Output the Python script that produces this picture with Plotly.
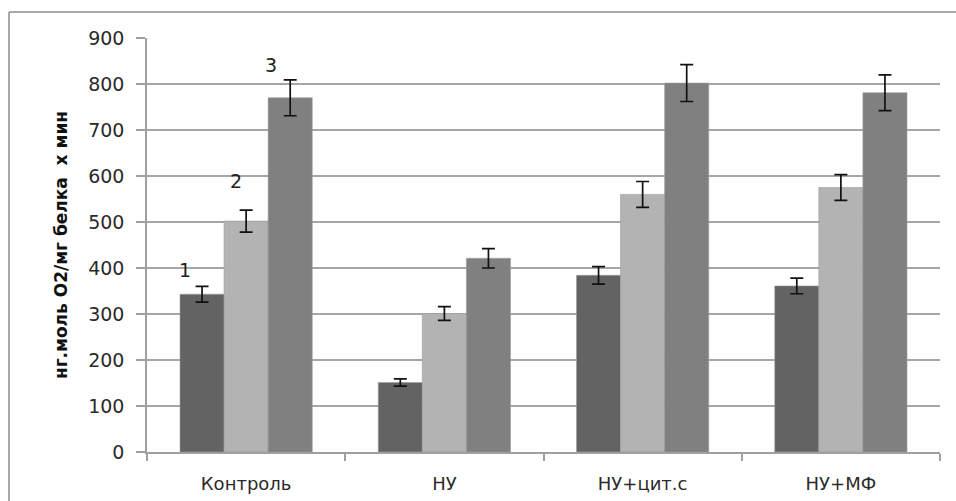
import plotly.graph_objects as go

categories = ["Контроль", "НУ", "НУ+цит.с", "НУ+МФ"]
series1 = [343, 151, 384, 361]
series2 = [502, 301, 560, 575]
series3 = [770, 421, 802, 781]
err1 = [17, 8, 19, 17]
err2 = [24, 15, 28, 28]
err3 = [39, 21, 40, 39]
y_ticks = [0, 100, 200, 300, 400, 500, 600, 700, 800, 900]
series_labels = ["1", "2", "3"]

colors = ["#636363", "#b3b3b3", "#808080"]
font_main = "DejaVu Sans"

fig = go.Figure()
for vals, errs, col, name in zip([series1, series2, series3], [err1, err2, err3], colors, series_labels):
    fig.add_trace(go.Bar(
        x=categories, y=vals, name=name,
        marker=dict(color=col, line=dict(color="#9a9a9a", width=0.6)),
        error_y=dict(type="data", array=errs, visible=True, color="#111111", thickness=1.7, width=6.5),
    ))

# numeric labels over control group bars
label_pos = [(-61, 395), (-10, 589), (25, 841)]
for lab, (dx, yv) in zip(series_labels, label_pos):
    fig.add_annotation(x=categories[0], y=yv, xref="x", yref="y", text=lab, showarrow=False,
                       xshift=dx, font=dict(family=font_main, size=19, color="#222222"))

# outer chart border (top and left edges visible in the frame)
border = dict(color="#8c8c8c", width=1.5)
fig.add_shape(type="line", xref="paper", yref="paper", x0=-0.174, x1=1.03, y0=1.0628, y1=1.0628,
              line=border, layer="below")
fig.add_shape(type="line", xref="paper", yref="paper", x0=-0.174, x1=-0.174, y0=-0.13, y1=1.0628,
              line=border, layer="below")

fig.update_layout(
    width=956, height=501,
    margin=dict(l=147, r=16, t=38, b=49, autoexpand=False),
    paper_bgcolor="white", plot_bgcolor="white",
    barmode="group", bargap=0.333, bargroupgap=0,
    showlegend=False,
    font=dict(family=font_main, size=19, color="#2a2a2a"),
)
fig.update_yaxes(
    range=[0, 900], tickvals=y_ticks, ticktext=[str(v) for v in y_ticks],
    showgrid=True, gridcolor="#a6a6a6", gridwidth=1.5,
    showline=True, linecolor="#a0a0a0", linewidth=1.5,
    ticks="outside", ticklen=9, tickcolor="#a0a0a0", tickwidth=1.5,
    ticklabelstandoff=8, automargin=False,
    tickfont=dict(family=font_main, size=19, color="#2a2a2a"),
    zeroline=False,
    title=dict(text="<b>нг.моль O2/мг белка  х мин</b>", font=dict(family=font_main, size=17, color="#111111"), standoff=16),
)
fig.update_xaxes(
    showline=True, linecolor="#a0a0a0", linewidth=1.5,
    ticks="outside", tickson="boundaries", ticklen=7, tickcolor="#a0a0a0", tickwidth=1.5,
    ticklabelstandoff=15, automargin=False,
    tickfont=dict(family=font_main, size=18, color="#2a2a2a"),
)

fig.write_html("out.html", config={"displayModeBar": False},
               post_script="document.body.style.margin='0';document.body.style.overflow='hidden';")
